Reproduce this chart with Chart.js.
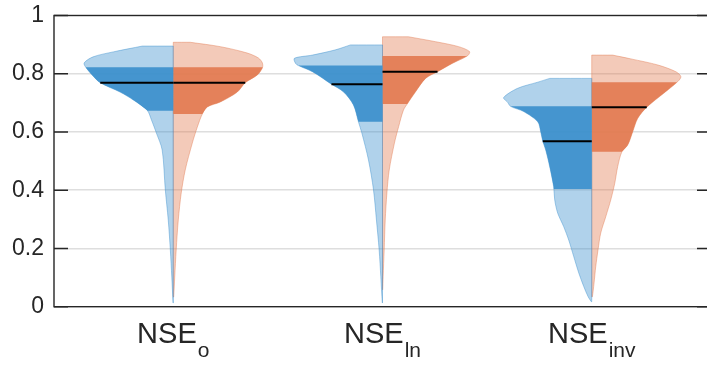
<!DOCTYPE html>
<html>
<head>
<meta charset="utf-8">
<script src="https://cdn.jsdelivr.net/npm/chart.js@4.4.1/dist/chart.umd.min.js"></script>
<style>
  html, body { margin: 0; padding: 0; overflow: hidden; background: #fff; }
  #wrap { width: 720px; height: 365px; }
</style>
</head>
<body>
<div id="wrap"><canvas id="myChart" width="720" height="365"></canvas></div>
<script>
// categories (subscripts of NSE)
var subs = ['o', 'ln', 'inv'];
var yTicks = [0, 0.2, 0.4, 0.6, 0.8, 1];

// left (blue) half-violins: y levels and half widths (x units)
var blueY = [
  [0.895,0.875,0.858,0.837,0.82,0.796,0.769,0.737,0.71,0.675,0.641,0.597,0.538,0.401,0.298,0.195,0.102,0.013],
  [0.899,0.882,0.864,0.853,0.836,0.828,0.807,0.764,0.738,0.693,0.635,0.597,0.504,0.401,0.298,0.195,0.103,0.013],
  [0.784,0.771,0.75,0.718,0.702,0.688,0.67,0.635,0.601,0.568,0.538,0.481,0.412,0.367,0.322,0.275,0.229,0.172,0.116,0.069,0.034,0.017]
];
var blueW = [
  [0.148,0.287,0.383,0.426,0.416,0.388,0.349,0.254,0.191,0.125,0.104,0.081,0.053,0.038,0.024,0.014,0.007,0.001],
  [0.153,0.225,0.335,0.421,0.416,0.402,0.335,0.244,0.187,0.139,0.115,0.099,0.067,0.043,0.029,0.016,0.008,0.001],
  [0.201,0.258,0.354,0.421,0.402,0.388,0.325,0.258,0.244,0.234,0.22,0.201,0.182,0.177,0.163,0.134,0.11,0.086,0.062,0.038,0.017,0.002]
];
var blueQ1 = [0.673, 0.635, 0.404];
var blueQ3 = [0.822, 0.828, 0.688];
var blueMed = [0.769, 0.764, 0.568];

// right (orange) half-violins
var orangeY = [
  [0.908,0.893,0.871,0.854,0.837,0.82,0.796,0.769,0.737,0.703,0.686,0.662,0.617,0.562,0.469,0.39,0.298,0.195,0.102,0.033],
  [0.927,0.91,0.893,0.876,0.862,0.836,0.807,0.784,0.738,0.698,0.675,0.618,0.562,0.469,0.39,0.298,0.195,0.102,0.058],
  [0.864,0.851,0.83,0.807,0.79,0.773,0.733,0.685,0.647,0.601,0.555,0.532,0.481,0.424,0.367,0.309,0.253,0.195,0.137,0.081,0.034]
];
var orangeW = [
  [0.081,0.225,0.354,0.407,0.426,0.426,0.402,0.344,0.306,0.225,0.163,0.139,0.115,0.091,0.057,0.038,0.024,0.014,0.007,0.002],
  [0.124,0.254,0.364,0.416,0.407,0.335,0.263,0.206,0.158,0.12,0.1,0.077,0.057,0.032,0.021,0.013,0.008,0.003,0.001],
  [0.1,0.187,0.316,0.402,0.426,0.411,0.344,0.263,0.22,0.196,0.172,0.144,0.124,0.11,0.091,0.067,0.043,0.03,0.019,0.011,0.003]
];
var orangeQ1 = [0.662, 0.696, 0.532];
var orangeQ3 = [0.822, 0.861, 0.771];
var orangeMed = [0.769, 0.807, 0.685];

var FONT = "'Liberation Sans', Arial, sans-serif";
var INK = '#262626';

// width of a half violin at level v
function wAt(ys, ws, v) {
  for (var i = 0; i < ys.length - 1; i++) {
    if (ys[i] >= v && ys[i + 1] <= v) {
      var t = (ys[i] - v) / (ys[i] - ys[i + 1]);
      return ws[i] + t * (ws[i + 1] - ws[i]);
    }
  }
  return 0;
}

// corners are pushed twice so the smoothed outline keeps them sharp
function corner(arr, p) { arr.push(p); arr.push({x: p.x, y: p.y}); }

function halfViolin(c, s, ys, ws, q1, q3, med, rgb) {
  var out = [];
  var n = ys.length;
  var shape = [];
  corner(shape, {x: c, y: ys[0]});
  corner(shape, {x: c + s * ws[0], y: ys[0]});
  for (var i = 1; i < n; i++) shape.push({x: c + s * ws[i], y: ys[i]});
  corner(shape, {x: c, y: ys[n - 1]});
  shape.push({x: c, y: ys[0]});
  out.push({
    data: shape, fill: 'shape', backgroundColor: 'rgba(' + rgb + ',0.4)',
    borderColor: 'rgba(' + rgb + ',0.55)', borderWidth: 0.8, order: 3
  });

  var band = [];
  corner(band, {x: c, y: q3});
  corner(band, {x: c + s * wAt(ys, ws, q3), y: q3});
  for (var j = 0; j < n; j++) {
    if (ys[j] < q3 && ys[j] > q1) band.push({x: c + s * ws[j], y: ys[j]});
  }
  corner(band, {x: c + s * wAt(ys, ws, q1), y: q1});
  corner(band, {x: c, y: q1});
  band.push({x: c, y: q3});
  out.push({
    data: band, fill: 'shape', backgroundColor: 'rgba(' + rgb + ',0.9)',
    borderWidth: 0, borderColor: 'rgba(0,0,0,0)', order: 2
  });

  out.push({
    data: [{x: c, y: med}, {x: c + s * wAt(ys, ws, med), y: med}],
    fill: false, borderColor: '#000', borderWidth: 2, order: 1
  });
  return out;
}

var datasets = [];
for (var k = 0; k < subs.length; k++) {
  datasets = datasets.concat(halfViolin(k + 1, -1, blueY[k], blueW[k], blueQ1[k], blueQ3[k], blueMed[k], '58,143,204'));
  datasets = datasets.concat(halfViolin(k + 1, 1, orangeY[k], orangeW[k], orangeQ1[k], orangeQ3[k], orangeMed[k], '226,122,80'));
}

var framePlugin = {
  id: 'frame',
  afterDatasetsDraw: function(chart) {
    var a = chart.chartArea, ctx = chart.ctx, ys = chart.scales.y;
    ctx.save();
    ctx.strokeStyle = INK;
    ctx.lineWidth = 1.4;
    ctx.strokeRect(a.left, a.top, a.right - a.left, a.bottom - a.top);
    ctx.beginPath();
    yTicks.forEach(function(t) {
      var py = ys.getPixelForValue(t);
      ctx.moveTo(a.left, py); ctx.lineTo(a.left + 14, py);
      ctx.moveTo(a.right, py); ctx.lineTo(a.right - 14, py);
    });
    ctx.stroke();
    ctx.restore();
  },
  afterDraw: function(chart) {
    var ctx = chart.ctx, xs = chart.scales.x;
    ctx.save();
    ctx.fillStyle = INK;
    ctx.textBaseline = 'alphabetic';
    ctx.textAlign = 'left';
    subs.forEach(function(sub, i) {
      var cx = xs.getPixelForValue(i + 1);
      ctx.font = '29px ' + FONT;
      var w1 = ctx.measureText('NSE').width;
      ctx.font = '21px ' + FONT;
      var w2 = ctx.measureText(sub).width;
      var x0 = cx - (w1 + 1 + w2) / 2;
      ctx.font = '29px ' + FONT;
      ctx.fillText('NSE', x0, 343.3);
      ctx.font = '21px ' + FONT;
      ctx.fillText(sub, x0 + w1 + 1, 356.7);
    });
    ctx.restore();
  }
};

var ctx = document.getElementById('myChart').getContext('2d');
var myChart = new Chart(ctx, {
  type: 'line',
  data: { datasets: datasets },
  options: {
    responsive: false,
    animation: false,
    devicePixelRatio: 1,
    layout: { padding: { top: 15.5, right: 9, left: 0, bottom: 0 } },
    elements: { point: { radius: 0 }, line: { tension: 0.3 } },
    plugins: { legend: { display: false }, tooltip: { enabled: false } },
    scales: {
      x: {
        type: 'linear', min: 0.43, max: 3.57,
        ticks: { display: false },
        grid: { display: false },
        border: { display: false },
        afterFit: function(s) { s.height = 58.3; s.paddingLeft = 0; s.paddingRight = 0; }
      },
      y: {
        min: 0, max: 1,
        afterBuildTicks: function(s) { s.ticks = yTicks.map(function(v) { return {value: v}; }); },
        ticks: {
          padding: 10, color: INK, font: { family: FONT, size: 23 },
          callback: function(v) { return String(+v.toFixed(1)); }
        },
        grid: {
          drawTicks: false, lineWidth: 1.5,
          color: function(c) { return (c.tick && (c.tick.value === 0 || c.tick.value === 1)) ? 'rgba(0,0,0,0)' : '#dedede'; }
        },
        border: { display: false },
        afterFit: function(s) { s.width = 54; s.paddingTop = 0; s.paddingBottom = 0; }
      }
    }
  },
  plugins: [framePlugin]
});
</script>
</body>
</html>
